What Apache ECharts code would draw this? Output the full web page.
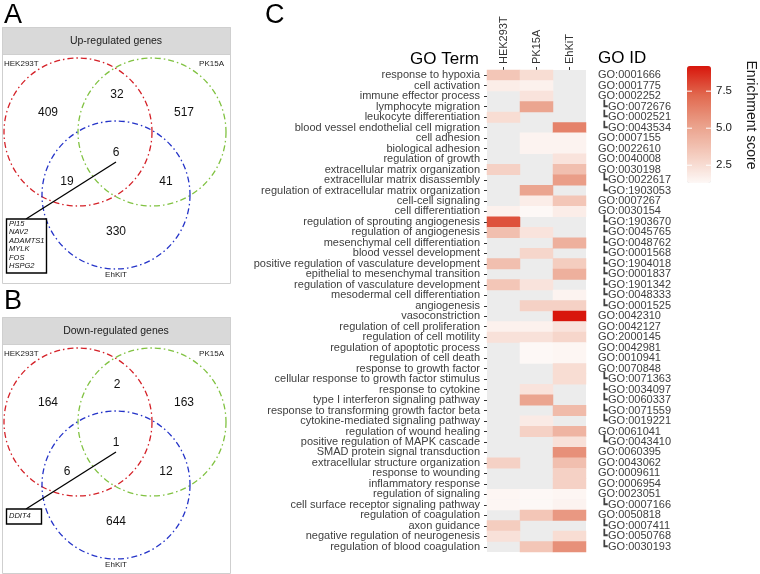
<!DOCTYPE html>
<html><head><meta charset="utf-8">
<script src="https://cdn.jsdelivr.net/npm/echarts/dist/echarts.min.js"></script>
<style>html,body{margin:0;padding:0;background:#fff}#c{width:760px;height:574px}</style>
</head><body><div id="c"></div><script>
const FONT = '"Liberation Sans", Arial, Helvetica, sans-serif';
const cellLines = ['HEK293T', 'PK15A', 'EhKiT'];
const goTerms = ['response to hypoxia','cell activation','immune effector process','lymphocyte migration','leukocyte differentiation','blood vessel endothelial cell migration','cell adhesion','biological adhesion','regulation of growth','extracellular matrix organization','extracellular matrix disassembly','regulation of extracellular matrix organization','cell-cell signaling','cell differentiation','regulation of sprouting angiogenesis','regulation of angiogenesis','mesenchymal cell differentiation','blood vessel development','positive regulation of vasculature development','epithelial to mesenchymal transition','regulation of vasculature development','mesodermal cell differentiation','angiogenesis','vasoconstriction','regulation of cell proliferation','regulation of cell motility','regulation of apoptotic process','regulation of cell death','response to growth factor','cellular response to growth factor stimulus','response to cytokine','type I interferon signaling pathway','response to transforming growth factor beta','cytokine-mediated signaling pathway','regulation of wound healing','positive regulation of MAPK cascade','SMAD protein signal transduction','extracellular structure organization','response to wounding','inflammatory response','regulation of signaling','cell surface receptor signaling pathway','regulation of coagulation','axon guidance','negative regulation of neurogenesis','regulation of blood coagulation'];
const goIds = ['GO:0001666','GO:0001775','GO:0002252','GO:0072676','GO:0002521','GO:0043534','GO:0007155','GO:0022610','GO:0040008','GO:0030198','GO:0022617','GO:1903053','GO:0007267','GO:0030154','GO:1903670','GO:0045765','GO:0048762','GO:0001568','GO:1904018','GO:0001837','GO:1901342','GO:0048333','GO:0001525','GO:0042310','GO:0042127','GO:2000145','GO:0042981','GO:0010941','GO:0070848','GO:0071363','GO:0034097','GO:0060337','GO:0071559','GO:0019221','GO:0061041','GO:0043410','GO:0060395','GO:0043062','GO:0009611','GO:0006954','GO:0023051','GO:0007166','GO:0050818','GO:0007411','GO:0050768','GO:0030193'];
const goChild = [0,0,0,1,1,1,0,0,0,0,1,1,0,0,1,1,1,1,1,1,1,1,1,0,0,0,0,0,0,1,1,1,1,1,0,1,0,0,0,0,0,1,0,1,1,1];
const hekScores = [3.5,1.8,null,null,2.5,null,null,null,null,3.0,null,null,null,1.6,7.8,3.8,null,null,3.8,null,3.5,null,null,null,1.6,2.3,null,null,null,null,null,null,null,null,null,null,null,3.0,null,null,1.4,1.4,null,3.2,2.3,null];
const pk15aScores = [2.5,1.6,2.2,5.0,null,null,1.5,1.5,null,null,null,5.0,1.8,1.3,null,2.2,null,2.8,null,null,2.2,null,3.0,null,1.6,2.3,1.3,1.3,null,null,2.2,5.0,null,1.9,3.0,null,null,null,null,null,1.3,1.3,3.5,null,null,3.5];
const ehkitScores = [null,null,null,null,null,6.3,1.5,1.5,2.2,3.8,5.3,null,3.5,1.8,null,null,4.5,null,3.2,4.5,null,1.5,3.0,9.2,2.2,2.8,1.4,1.4,2.5,2.5,null,null,4.0,null,4.3,2.3,5.8,3.8,3.0,3.0,1.4,1.5,5.5,null,2.5,5.8];
const colorTicks = [7.5, 5.0, 2.5];
const scoreMin = 1.3, scoreMax = 9.2;
const vennSets = ['HEK293T', 'PK15A', 'EhKiT'];
// order: HEK only, PK only, EhKiT only, HEK&PK, HEK&EhKiT, PK&EhKiT, all three
const upCounts = [409, 517, 330, 32, 19, 41, 6];
const downCounts = [164, 163, 644, 2, 6, 12, 1];
const upGenes = ['PI15', 'NAV2', 'ADAMTS1', 'MYLK', 'FOS', 'HSPG2'];
const downGenes = ['DDIT4'];

const chart = echarts.init(document.getElementById('c'));
const heatData = [];
[hekScores, pk15aScores, ehkitScores].forEach((arr, xi) => {
  arr.forEach((v, yi) => { if (v !== null) heatData.push([xi, yi, v]); });
});

function venn(top, title, counts, genes, boxH) {
  const g = [];
  g.push({type:'rect', shape:{x:2.5, y:top+0.5, width:228, height:256}, style:{fill:'#fff', stroke:'#cfcfcf', lineWidth:1}});
  g.push({type:'rect', shape:{x:2.5, y:top+0.5, width:228, height:27}, style:{fill:'#d9d9d9', stroke:'#cfcfcf', lineWidth:1}});
  g.push({type:'text', x:116, y:top+14, style:{text:title, font:'10.5px '+FONT, fill:'#1a1a1a', textAlign:'center', textVerticalAlign:'middle'}});
  const circ = [[78,105,'#d42027'],[152,105,'#80c241'],[116,168,'#2433c8']];
  circ.forEach(c => g.push({type:'circle', shape:{cx:c[0], cy:top+c[1], r:74}, style:{fill:'transparent', stroke:c[2], lineWidth:1.3, lineDash:[6,3,1.5,3]}}));
  g.push({type:'text', x:4, y:top+37, style:{text:vennSets[0], font:'8px '+FONT, fill:'#1a1a1a', textAlign:'left', textVerticalAlign:'middle'}});
  g.push({type:'text', x:224, y:top+37, style:{text:vennSets[1], font:'8px '+FONT, fill:'#1a1a1a', textAlign:'right', textVerticalAlign:'middle'}});
  g.push({type:'text', x:116, y:top+248, style:{text:vennSets[2], font:'8px '+FONT, fill:'#1a1a1a', textAlign:'center', textVerticalAlign:'middle'}});
  const pos = [[48,86],[184,86],[116,205],[117,68],[67,155],[166,155],[116,126]];
  counts.forEach((n, i) => g.push({type:'text', x:pos[i][0], y:top+pos[i][1], style:{text:String(n), font:'12px '+FONT, fill:'#111', textAlign:'center', textVerticalAlign:'middle'}}));
  g.push({type:'line', shape:{x1:116, y1:top+135, x2:26, y2:top+192}, style:{stroke:'#000', lineWidth:1.3}});
  const bw = genes.length > 1 ? 40 : 35;
  g.push({type:'rect', shape:{x:6.5, y:top+192, width:bw, height:boxH}, style:{fill:'#fff', stroke:'#000', lineWidth:1.4}});
  genes.forEach((s, i) => g.push({type:'text', x:9, y:top+197+i*8.4 + (genes.length===1?1.5:0), style:{text:s, font:'italic 7.5px '+FONT, fill:'#111', textAlign:'left', textVerticalAlign:'middle'}}));
  return g;
}

const barTop = 66, barH = 117, barLeft = 687, barW = 24;
const graphics = [];
graphics.push(...venn(27, 'Up-regulated genes', upCounts, upGenes, 54));
graphics.push(...venn(317, 'Down-regulated genes', downCounts, downGenes, 15));
graphics.push({type:'text', x:4, y:2, style:{text:'A', font:'27px '+FONT, fill:'#000', textVerticalAlign:'top'}});
graphics.push({type:'text', x:4, y:288, style:{text:'B', font:'27px '+FONT, fill:'#000', textVerticalAlign:'top'}});
graphics.push({type:'text', x:265, y:2, style:{text:'C', font:'27px '+FONT, fill:'#000', textVerticalAlign:'top'}});
graphics.push({type:'text', x:479, y:59, style:{text:'GO Term', font:'17px '+FONT, fill:'#000', textAlign:'right', textVerticalAlign:'middle'}});
graphics.push({type:'text', x:598, y:58, style:{text:'GO ID', font:'17px '+FONT, fill:'#000', textAlign:'left', textVerticalAlign:'middle'}});
graphics.push({type:'text', x:751, y:115, rotation:-Math.PI/2, style:{text:'Enrichment score', font:'14px '+FONT, fill:'#1a1a1a', textAlign:'center', textVerticalAlign:'middle'}});
colorTicks.forEach(v => {
  const y = barTop + (scoreMax - v) / (scoreMax - scoreMin) * barH;
  graphics.push({type:'line', z:100, shape:{x1:barLeft, y1:y, x2:barLeft+5, y2:y}, style:{stroke:'#fff', lineWidth:1}});
  graphics.push({type:'line', z:100, shape:{x1:barLeft+barW-5, y1:y, x2:barLeft+barW, y2:y}, style:{stroke:'#fff', lineWidth:1}});
  graphics.push({type:'text', x:716, y:y, style:{text:v.toFixed(1), font:'11.5px '+FONT, fill:'#1a1a1a', textAlign:'left', textVerticalAlign:'middle'}});
});

chart.setOption({
  animation:false,
  backgroundColor:'#fff',
  grid:{left:487, top:70, width:99, height:482, show:true, backgroundColor:'#ececec', borderWidth:0},
  xAxis:{type:'category', position:'top', data:cellLines, axisLine:{show:false},
    axisTick:{show:true, alignWithLabel:true, length:3, interval:0, lineStyle:{color:'#333'}},
    axisLabel:{rotate:-90, margin:6, interval:0, fontSize:11, color:'#333', fontFamily:FONT},
    splitLine:{show:false}},
  yAxis:[
    {type:'category', data:goTerms, inverse:true, position:'left', axisLine:{show:false},
      axisTick:{show:true, alignWithLabel:true, interval:0, length:3, lineStyle:{color:'#333'}},
      axisLabel:{fontSize:11, interval:0, color:'#404040', fontFamily:FONT, margin:7}, splitLine:{show:false}},
    {type:'category', data:goIds.map((g,i)=> goChild[i] ? ' \u2517' + g : g), inverse:true, position:'right', axisLine:{show:false},
      axisTick:{show:false}, axisLabel:{fontSize:11, interval:0, color:'#404040', fontFamily:FONT, margin:12}, splitLine:{show:false}}
  ],
  visualMap:{type:'continuous', min:scoreMin, max:scoreMax, left:barLeft, top:barTop, padding:0,
    itemWidth:barW, itemHeight:barH, calculable:false, seriesIndex:0,
    inRange:{color:['#fdf8f6','#f4cbbd','#ea9f89','#e1694f','#d8160c']}},
  series:[{type:'heatmap', data:heatData, xAxisIndex:0, yAxisIndex:0, itemStyle:{borderWidth:0}}],
  graphic:graphics
});
</script></body></html>
